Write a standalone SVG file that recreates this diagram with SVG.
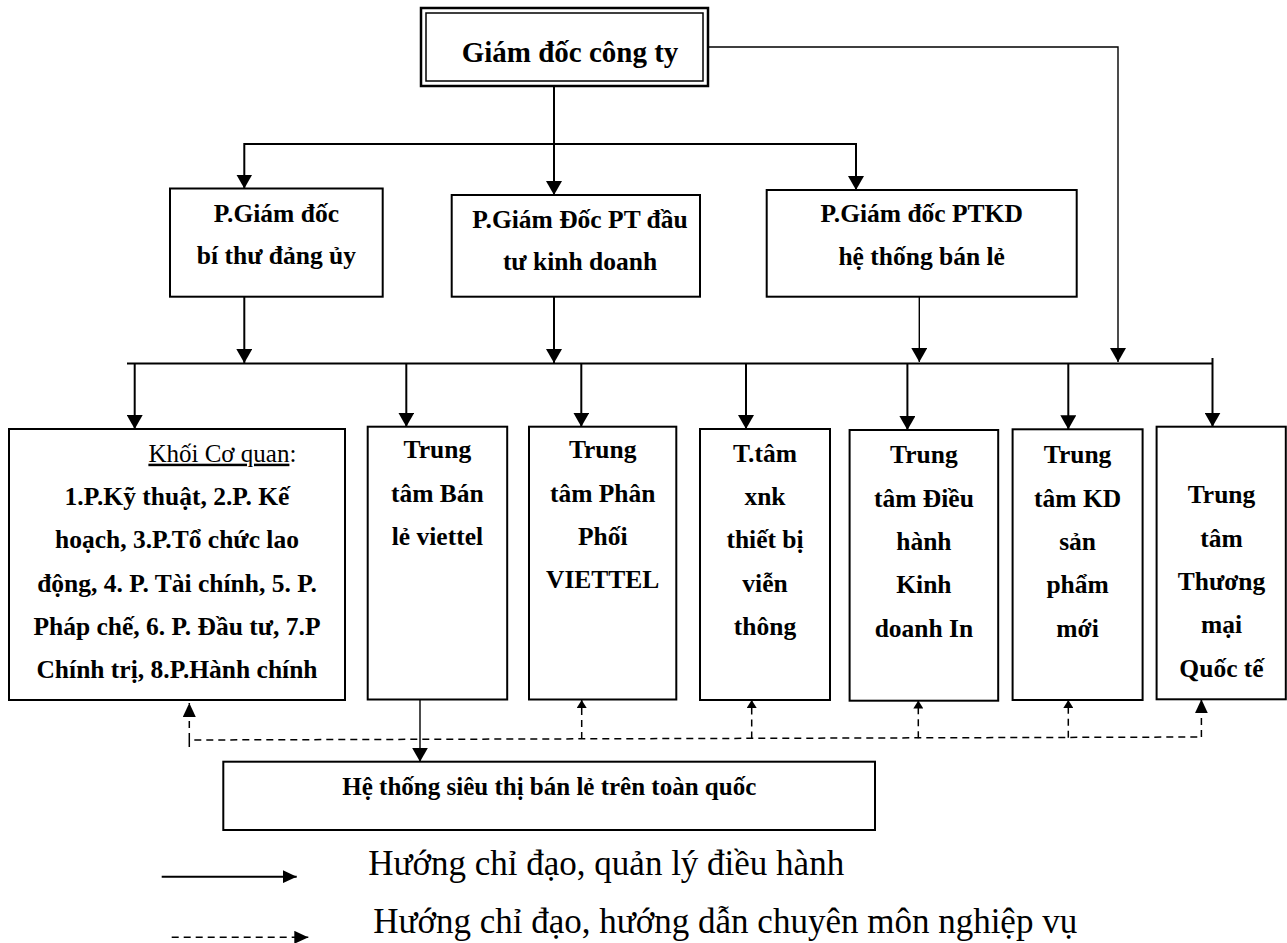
<svg xmlns="http://www.w3.org/2000/svg" width="1287" height="943" viewBox="0 0 1287 943">
  <style>
    .box { fill: #ffffff; stroke: #000000; stroke-width: 2; }
    .lb { font-family: "Liberation Serif", "Times New Roman", serif; font-weight: bold; font-size: 25.5px; fill: #000000; text-anchor: middle; }
    .sm { font-size: 25px; }
    .top { font-family: "Liberation Serif", "Times New Roman", serif; font-weight: bold; font-size: 29px; fill: #000000; text-anchor: middle; }
    .reg { font-family: "Liberation Serif", "Times New Roman", serif; font-size: 25px; fill: #000000; }
    .leg { font-family: "Liberation Serif", "Times New Roman", serif; font-size: 35px; fill: #000000; }
    .c { fill: none; stroke: #000000; stroke-width: 2; }
    .thin { fill: none; stroke: #000000; stroke-width: 1.4; }
    .d { fill: none; stroke: #000000; stroke-width: 1.5; stroke-dasharray: 7 5; }
  </style>
  <defs>
    <marker id="arr" markerUnits="userSpaceOnUse" markerWidth="14" markerHeight="16" refX="14" refY="8" orient="auto">
      <path d="M0,0 L14,8 L0,16 z" fill="#000000"/>
    </marker>
    <marker id="arrM" markerUnits="userSpaceOnUse" markerWidth="14" markerHeight="13" refX="14" refY="6.5" orient="auto">
      <path d="M0,0 L14,6.5 L0,13 z" fill="#000000"/>
    </marker>
    <marker id="arrS" markerUnits="userSpaceOnUse" markerWidth="8" markerHeight="10" refX="8" refY="5" orient="auto">
      <path d="M0,0 L8,5 L0,10 z" fill="#000000"/>
    </marker>
  </defs>
  <rect width="1287" height="943" fill="#ffffff"/>

  <g id="connectors">
    <path class="thin" d="M685.7,47 H1118 V362" marker-end="url(#arr)"/>
    <path class="c" d="M554,86 V195" marker-end="url(#arr)"/>
    <path class="c" d="M554,144 H244.3 V188.5" marker-end="url(#arr)"/>
    <path class="c" d="M554,144 H856 V190" marker-end="url(#arr)"/>
    <path class="c" d="M244.3,296.7 V363" marker-end="url(#arr)"/>
    <path class="c" d="M554,296.7 V363" marker-end="url(#arr)"/>
    <path class="thin" d="M919.3,296.7 V362" marker-end="url(#arr)"/>
    <path class="c" d="M127,363.5 H1212.5"/>
    <path class="c" d="M1212.5,358 V426.7" marker-end="url(#arr)"/>
    <path class="c" d="M134.7,363.5 V429" marker-end="url(#arr)"/>
    <path class="c" d="M406.3,363.5 V426.7" marker-end="url(#arr)"/>
    <path class="c" d="M581.3,363.5 V426.7" marker-end="url(#arr)"/>
    <path class="c" d="M746,363.5 V429" marker-end="url(#arr)"/>
    <path class="c" d="M907.4,363.5 V430" marker-end="url(#arr)"/>
    <path class="c" d="M1068.3,363.5 V429.3" marker-end="url(#arr)"/>
    <path class="thin" d="M420,699.5 V761.7" marker-end="url(#arr)"/>
    <path class="d" d="M189.3,747 V740 L1201.4,737"/>
    <path class="d" d="M189.3,740 V703" marker-end="url(#arrM)"/>
    <path class="d" d="M581.7,739 V700" marker-end="url(#arrS)"/>
    <path class="d" d="M751.7,738.5 V700" marker-end="url(#arrS)"/>
    <path class="d" d="M918.3,738.2 V700.5" marker-end="url(#arrS)"/>
    <path class="d" d="M1068.3,737.8 V700" marker-end="url(#arrS)"/>
    <path class="d" d="M1201.4,737 V699.3" marker-end="url(#arrM)"/>
  </g>

  <g id="node-giamdoc">
    <rect x="421" y="8" width="287" height="78" fill="#ffffff" stroke="#000000" stroke-width="2.5"/>
    <rect x="426" y="13" width="277" height="68" fill="none" stroke="#000000" stroke-width="1.5"/>
    <text class="top" x="570" y="62">Giám đốc công ty</text>
  </g>

  <g id="node-pgd-bithu">
    <rect class="box" x="170" y="188.5" width="212.7" height="108.2"/>
    <text class="lb" x="276.4" y="221.7">P.Giám đốc</text>
    <text class="lb" x="276.4" y="264">bí thư đảng ủy</text>
  </g>

  <g id="node-pgd-dautu">
    <rect class="box" x="451.7" y="195" width="248.3" height="101.7"/>
    <text class="lb" x="580" y="228">P.Giám Đốc PT đầu</text>
    <text class="lb" x="580" y="270">tư kinh doanh</text>
  </g>

  <g id="node-pgd-ptkd">
    <rect class="box" x="766.7" y="190" width="310" height="106.7"/>
    <text class="lb" x="921.7" y="221.7">P.Giám đốc PTKD</text>
    <text class="lb" x="921.7" y="265">hệ thống bán lẻ</text>
  </g>

  <g id="node-khoicoquan">
    <rect class="box" x="9" y="429" width="336" height="271"/>
    <text class="reg" x="148.4" y="461.7"><tspan text-decoration="underline">Khối Cơ quan</tspan>:</text>
    <text class="lb" x="177" y="505">1.P.Kỹ thuật, 2.P. Kế</text>
    <text class="lb" x="177" y="548.3">hoạch, 3.P.Tổ chức lao</text>
    <text class="lb" x="177" y="591.7">động, 4. P. Tài chính, 5. P.</text>
    <text class="lb" x="177" y="635">Pháp chế, 6. P. Đầu tư, 7.P</text>
    <text class="lb" x="177" y="678.3">Chính trị, 8.P.Hành chính</text>
  </g>

  <g id="node-banle">
    <rect class="box" x="367.7" y="426.7" width="139.5" height="272.8"/>
    <text class="lb" x="437.4" y="458.3">Trung</text>
    <text class="lb" x="437.4" y="501.7">tâm Bán</text>
    <text class="lb" x="437.4" y="545">lẻ viettel</text>
  </g>

  <g id="node-phanphoi">
    <rect class="box" x="529" y="426.7" width="147.3" height="272.8"/>
    <text class="lb" x="602.7" y="458.3">Trung</text>
    <text class="lb" x="602.7" y="501.7">tâm Phân</text>
    <text class="lb" x="602.7" y="545">Phối</text>
    <text class="lb" x="602.7" y="588.3">VIETTEL</text>
  </g>

  <g id="node-xnk">
    <rect class="box" x="700" y="429" width="130" height="271"/>
    <text class="lb" x="765" y="461.7">T.tâm</text>
    <text class="lb" x="765" y="505">xnk</text>
    <text class="lb" x="765" y="548.3">thiết bị</text>
    <text class="lb" x="765" y="591.7">viễn</text>
    <text class="lb" x="765" y="635">thông</text>
  </g>

  <g id="node-dieuhanh">
    <rect class="box" x="849.6" y="430" width="148.6" height="270.7"/>
    <text class="lb" x="923.9" y="463.3">Trung</text>
    <text class="lb" x="923.9" y="506.7">tâm Điều</text>
    <text class="lb" x="923.9" y="550">hành</text>
    <text class="lb" x="923.9" y="593.3">Kinh</text>
    <text class="lb" x="923.9" y="636.7">doanh In</text>
  </g>

  <g id="node-kd">
    <rect class="box" x="1012.6" y="429.3" width="130" height="270.7"/>
    <text class="lb" x="1077.6" y="463.3">Trung</text>
    <text class="lb" x="1077.6" y="506.7">tâm KD</text>
    <text class="lb" x="1077.6" y="550">sản</text>
    <text class="lb" x="1077.6" y="593.3">phẩm</text>
    <text class="lb" x="1077.6" y="636.7">mới</text>
  </g>

  <g id="node-quocte">
    <rect class="box" x="1156.6" y="426.7" width="129.2" height="272.6"/>
    <text class="lb" x="1221.5" y="503.3">Trung</text>
    <text class="lb" x="1221.5" y="546.7">tâm</text>
    <text class="lb" x="1221.5" y="590">Thương</text>
    <text class="lb" x="1221.5" y="633.3">mại</text>
    <text class="lb" x="1221.5" y="676.7">Quốc tế</text>
  </g>

  <g id="node-sieuthi">
    <rect class="box" x="223.3" y="761.7" width="651.7" height="68.3"/>
    <text class="lb sm" x="549.3" y="795">Hệ thống siêu thị bán lẻ trên toàn quốc</text>
  </g>

  <g id="legend">
    <path class="c" d="M161.7,876.7 H296.7" marker-end="url(#arrM)"/>
    <text class="leg" x="368.3" y="875">Hướng chỉ đạo, quản lý điều hành</text>
    <path class="d" d="M171.7,937.3 H308.3" marker-end="url(#arrM)"/>
    <text class="leg" x="373.3" y="933.3">Hướng chỉ đạo, hướng dẫn chuyên môn nghiệp vụ</text>
  </g>
</svg>
